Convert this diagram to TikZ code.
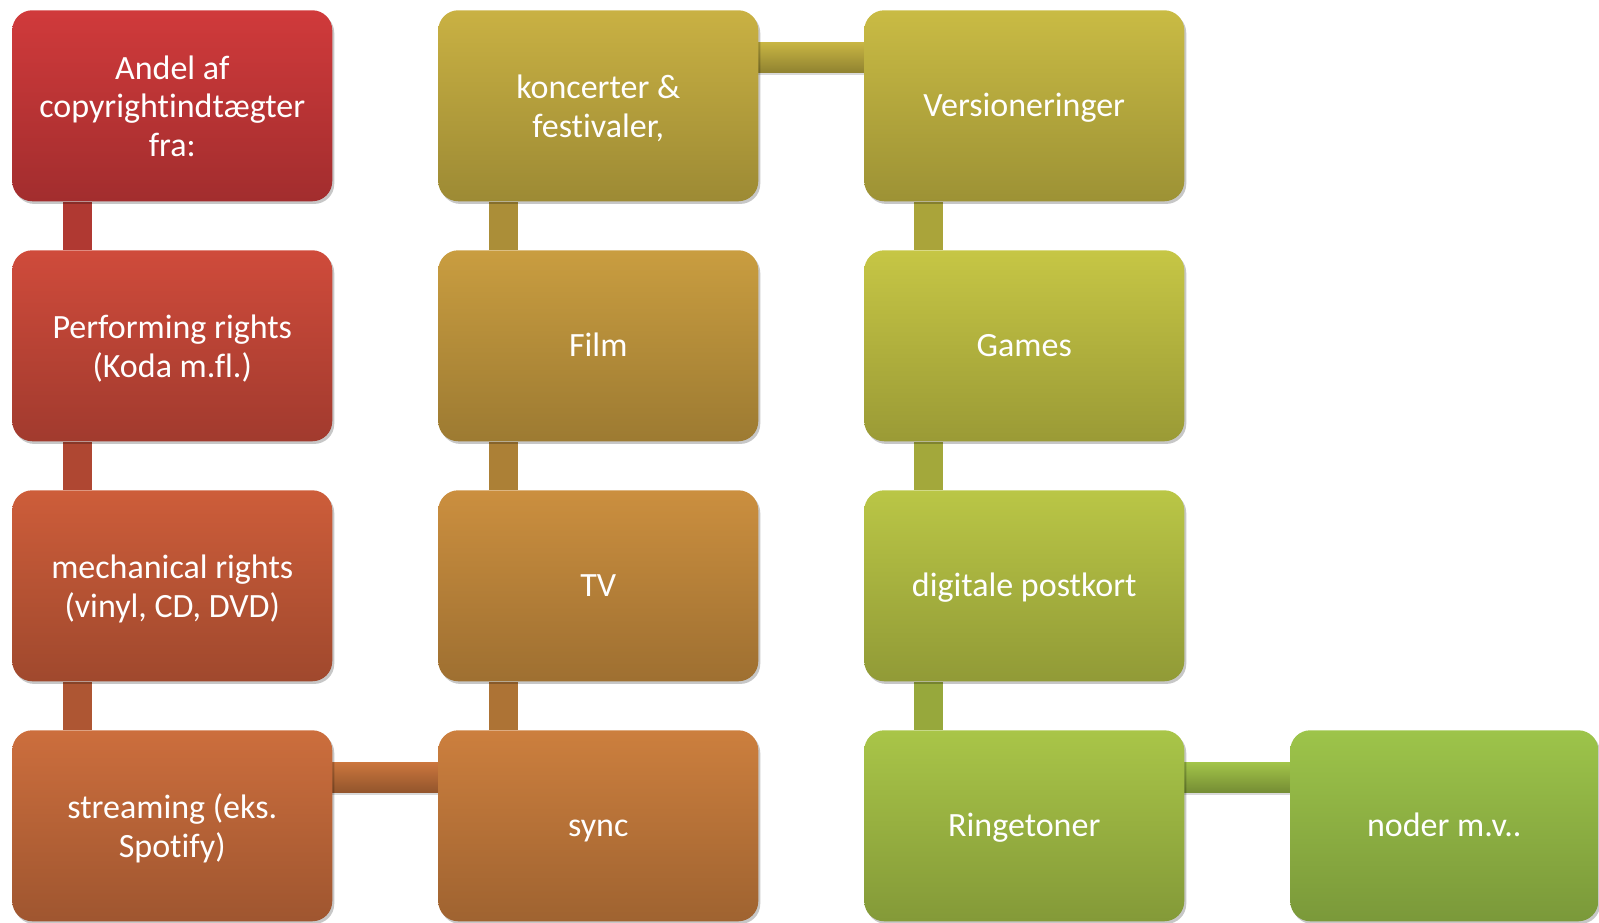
\documentclass[tikz,border=0pt]{standalone}
\usepackage{fontspec}
\setmainfont[Ligatures=NoCommon]{Carlito}
\usetikzlibrary{shadows}
\pgfdeclarelayer{bg}
\pgfsetlayers{bg,main}
\definecolor{c1}{HTML}{D03A3B}
\definecolor{c2}{HTML}{CF4B3B}
\definecolor{c3}{HTML}{CD5D3A}
\definecolor{c4}{HTML}{CC6E3D}
\definecolor{c5}{HTML}{CC7F3E}
\definecolor{c6}{HTML}{CB8F3F}
\definecolor{c7}{HTML}{C99D40}
\definecolor{c8}{HTML}{C9B143}
\definecolor{c9}{HTML}{C9BB44}
\definecolor{c10}{HTML}{C6C645}
\definecolor{c11}{HTML}{BAC646}
\definecolor{c12}{HTML}{A9C548}
\definecolor{c13}{HTML}{9DC44A}
\newcommand\myTopFix{\rule{0pt}{27pt}}
\newcommand\myBotFix{\rule[-8.7pt]{0pt}{8.7pt}}
\tikzset{
  box/.style={rectangle, rounded corners=15pt, minimum width=240pt,
    minimum height=143.25pt, anchor=north west, text=white, align=center,
    font=\fontsize{25.5}{29}\selectfont, inner sep=0pt,
    top color=#1, bottom color=#1!78!black,
    drop shadow={shadow xshift=1.5pt, shadow yshift=-2pt, opacity=0.22, fill=black}},
  vbar/.style={fill=#1},
  hbar/.style={top color=#1, bottom color=#1!72!black},
}
\begin{document}
\begin{tikzpicture}[x=0.75pt,y=-0.75pt]
\useasboundingbox (0,0) rectangle (1599,922);
% column 1
\node[box=c1] (andel) at (12,10) {\myTopFix Andel af\\copyrightindtægter\\fra:\myBotFix};
\node[box=c2] (perf) at (12,250) {\myTopFix Performing rights\\(Koda m.fl.)\myBotFix};
\node[box=c3] (mech) at (12,490) {\myTopFix mechanical rights\\(vinyl, CD, DVD)\myBotFix};
\node[box=c4] (stream) at (12,730) {\myTopFix streaming (eks.\\Spotify)\myBotFix};
% column 2
\node[box=c5] (sync) at (438,730) {\rule{0pt}{24.8pt}sync\myBotFix};
\node[box=c6] (tv) at (438,490) {\rule{0pt}{24.8pt}TV\myBotFix};
\node[box=c7] (film) at (438,250) {\rule{0pt}{24.8pt}Film\myBotFix};
\node[box=c8] (konc) at (438,10) {\myTopFix koncerter \&\\festivaler,\myBotFix};
% column 3
\node[box=c9] (vers) at (864,10) {\rule{0pt}{24.8pt}Versioneringer\myBotFix};
\node[box=c10] (games) at (864,250) {\rule{0pt}{24.8pt}Games\myBotFix};
\node[box=c11] (digi) at (864,490) {\rule{0pt}{24.8pt}digitale postkort\myBotFix};
\node[box=c12] (ring) at (864,730) {\rule{0pt}{24.8pt}Ringetoner\myBotFix};
% column 4
\node[box=c13, minimum width=231pt] (noder) at (1290,730) {\rule{0pt}{24.8pt}noder m.v..\myBotFix};
\begin{pgfonlayer}{bg}
  % vertical bars
  \fill[vbar=c1!50!c2!85!black] ([xshift=38.25pt]andel.south west) rectangle ([xshift=60pt]perf.north west);
  \fill[vbar=c2!50!c3!85!black] ([xshift=38.25pt]perf.south west) rectangle ([xshift=60pt]mech.north west);
  \fill[vbar=c3!50!c4!85!black] ([xshift=38.25pt]mech.south west) rectangle ([xshift=60pt]stream.north west);
  \fill[vbar=c8!50!c7!85!black] ([xshift=38.25pt]konc.south west) rectangle ([xshift=60pt]film.north west);
  \fill[vbar=c7!50!c6!85!black] ([xshift=38.25pt]film.south west) rectangle ([xshift=60pt]tv.north west);
  \fill[vbar=c6!50!c5!85!black] ([xshift=38.25pt]tv.south west) rectangle ([xshift=60pt]sync.north west);
  \fill[vbar=c9!50!c10!85!black] ([xshift=37.5pt]vers.south west) rectangle ([xshift=59.25pt]games.north west);
  \fill[vbar=c10!50!c11!85!black] ([xshift=37.5pt]games.south west) rectangle ([xshift=59.25pt]digi.north west);
  \fill[vbar=c11!50!c12!85!black] ([xshift=37.5pt]digi.south west) rectangle ([xshift=59.25pt]ring.north west);
  % horizontal bars with faint shadow
  \fill[black, opacity=0.15] ([xshift=-2pt,yshift=-26pt]stream.north east) rectangle ([xshift=2pt,yshift=-48.5pt]sync.north west);
  \fill[black, opacity=0.15] ([xshift=-2pt,yshift=-26pt]konc.north east) rectangle ([xshift=2pt,yshift=-48.5pt]vers.north west);
  \fill[black, opacity=0.15] ([xshift=-2pt,yshift=-26pt]ring.north east) rectangle ([xshift=2pt,yshift=-48.5pt]noder.north west);
  \shade[hbar=c4!50!c5] ([xshift=-2pt,yshift=-24pt]stream.north east) rectangle ([xshift=2pt,yshift=-46.5pt]sync.north west);
  \shade[hbar=c8!50!c9] ([xshift=-2pt,yshift=-24pt]konc.north east) rectangle ([xshift=2pt,yshift=-46.5pt]vers.north west);
  \shade[hbar=c12!50!c13] ([xshift=-2pt,yshift=-24pt]ring.north east) rectangle ([xshift=2pt,yshift=-46.5pt]noder.north west);
\end{pgfonlayer}
\end{tikzpicture}
\end{document}
